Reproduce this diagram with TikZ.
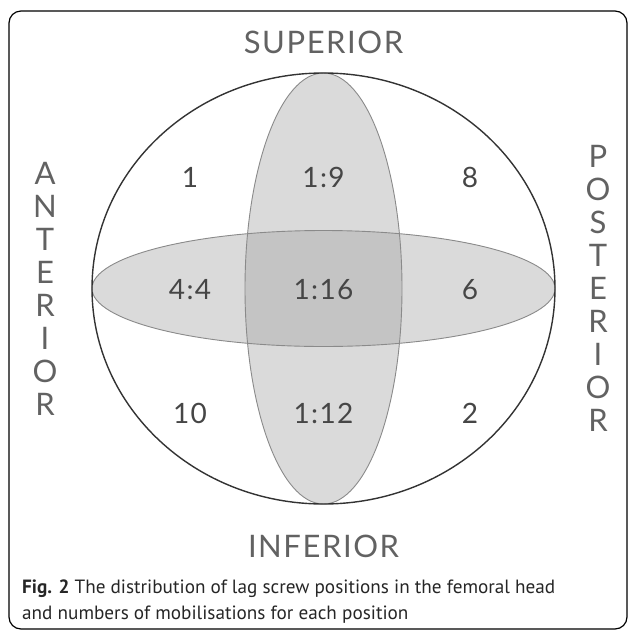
\documentclass[tikz,border=0pt]{standalone}
\usepackage{fontspec}
\setmainfont{PT Sans}
\newfontfamily\labelfont[LetterSpace=5]{Lato}
\definecolor{bandfill}{HTML}{DADADA}
\definecolor{overlap}{HTML}{C4C4C4}
\definecolor{lobeline}{HTML}{8A8A8A}
\definecolor{labelgray}{HTML}{626262}
\definecolor{numgray}{HTML}{464646}
\begin{document}
\begin{tikzpicture}[x=1pt,y=-1pt,
		side/.style={font=\labelfont\fontsize{31}{31}\selectfont,text=labelgray,inner sep=0pt,anchor=base},
		num/.style={font=\labelfont\fontsize{28}{28}\selectfont,text=numgray,inner sep=0pt,anchor=base},
		capline/.style={font=\fontsize{19.2}{23}\selectfont,text=black!85,inner sep=0pt,anchor=base west},
		lobe/.style={draw=lobeline,line width=0.9pt}]
	\useasboundingbox (0,0) rectangle (630,630);
	% frame
	\draw[line width=1.2pt,rounded corners=12pt] (9,11) rectangle (627,629);
	% femoral head and the two bands
	\coordinate (head) at (323.5,288.5);
	\fill[bandfill] (head) ellipse [x radius=231.5,y radius=58];
	\fill[bandfill] (head) ellipse [x radius=78.5,y radius=215.5];
	\begin{scope}
		\clip (head) ellipse [x radius=231.5,y radius=58];
		\fill[overlap] (head) ellipse [x radius=78.5,y radius=215.5];
	\end{scope}
	\draw[lobe] (head) ellipse [x radius=231.5,y radius=58];
	\draw[lobe] (head) ellipse [x radius=78.5,y radius=215.5];
	\draw[line width=1.4pt,black!80] (head) ellipse [x radius=231.5,y radius=215.5];
	% directions
	\node[side] (sup) at (323.5,53) {SUPERIOR};
	\node[side] (inf) at (323.5,557) {INFERIOR};
	\foreach \l [count=\i] in {A,N,T,E,R,I,O,R}
		\node[side] (ant\i) at (45,{184+33*(\i-1)}) {\l};
	\foreach \l [count=\i] in {P,O,S,T,E,R,I,O,R}
		\node[side] (post\i) at (598,{167+33*(\i-1)}) {\l};
	% mobilisations per position
	\node[num] (n11) at (190,187) {1};
	\node[num] (n12) at (323.5,187) {1:9};
	\node[num] (n13) at (470,187) {8};
	\node[num] (n21) at (190,299) {4:4};
	\node[num] (n22) at (323.5,299) {1:16};
	\node[num] (n23) at (470,299) {6};
	\node[num] (n31) at (190,423) {10};
	\node[num] (n32) at (323.5,423) {1:12};
	\node[num] (n33) at (470,423) {2};
	% caption
	\node[capline] (cap1) at (22,593) {\textbf{Fig. 2} The distribution of lag screw positions in the femoral head};
	\node[capline] (cap2) at (22,619) {and numbers of mobilisations for each position};
\end{tikzpicture}
\end{document}
